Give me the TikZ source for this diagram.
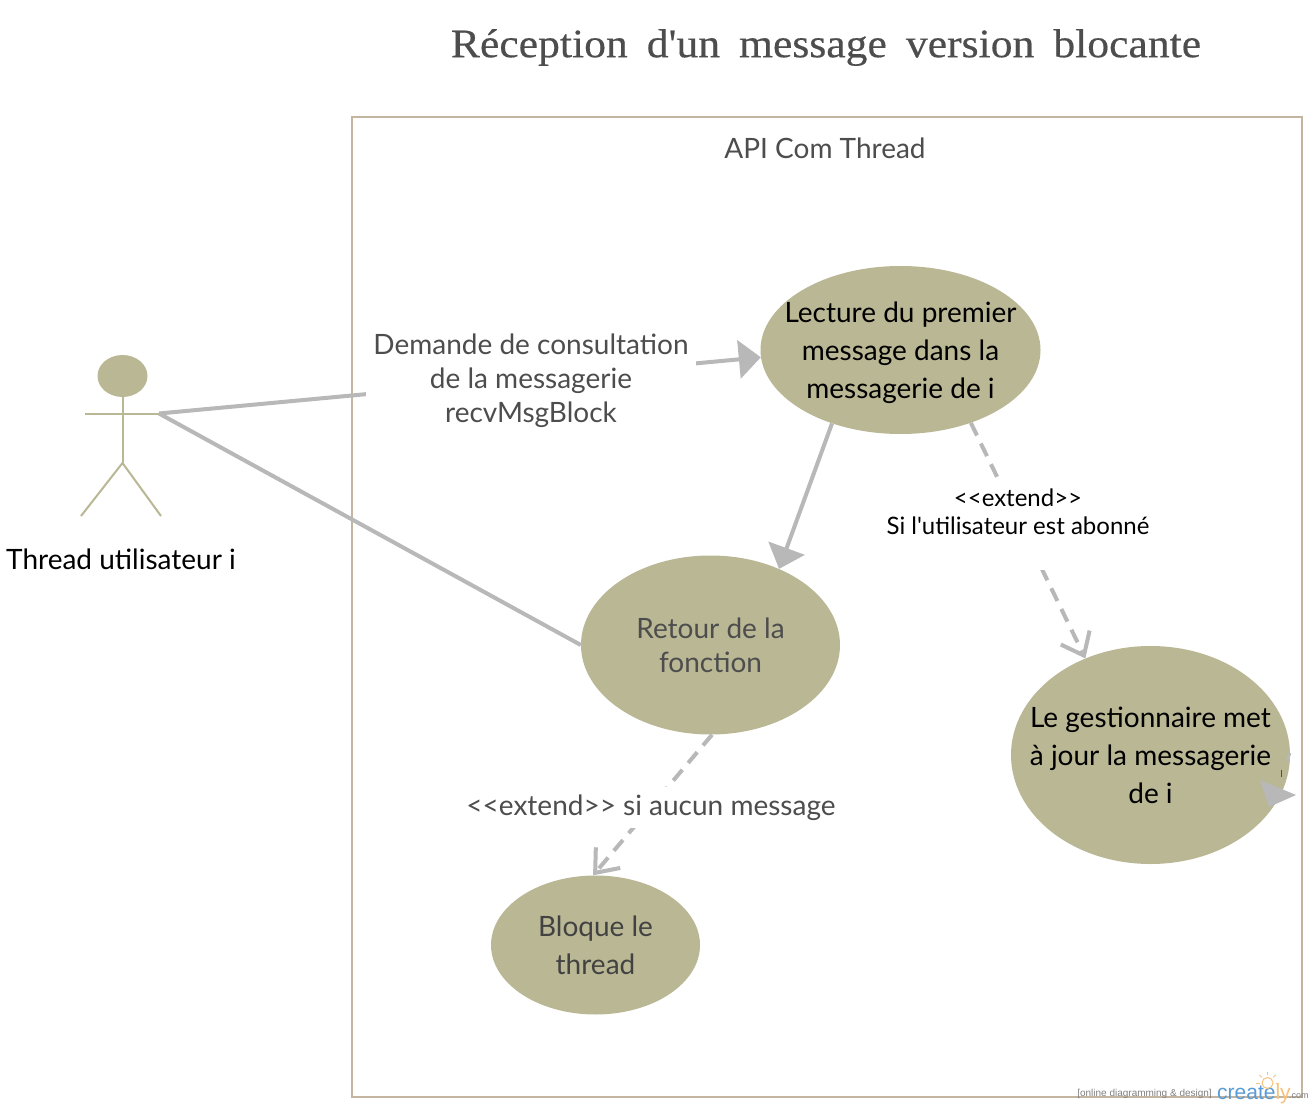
\documentclass[tikz,border=0pt]{standalone}
\usepackage{fontspec}
\setmainfont{Lato}[Ligatures=TeXOff]
\newfontfamily\titlefont{Liberation Serif}[FakeStretch=1.08,FakeBold=.4]
\newfontfamily\markfont{Liberation Sans}
\usepackage{xcolor}
\definecolor{Col1}{RGB}{186,183,148}
\definecolor{Col2}{RGB}{184,184,184}
\definecolor{Col3}{RGB}{196,181,160}
\definecolor{Col4}{RGB}{77,77,77}
\definecolor{Col5}{RGB}{91,155,213}
\definecolor{Col6}{RGB}{249,194,123}
\usetikzlibrary{shapes.geometric}
\usetikzlibrary{arrows.meta}
\tikzstyle{UseCase}=[ellipse,fill=Col1,inner sep=0pt]
\tikzstyle{Actor}=[draw=Col1,line width=2pt]
\tikzstyle{Edge}=[draw=Col2,line width=4pt,-{Triangle[length=22pt,width=38pt,fill=Col2]}]
\tikzstyle{EdgeLine}=[draw=Col2,line width=4pt]
\tikzstyle{EdgeExt}=[draw=Col2,line width=4pt,dash pattern=on 14pt off 9pt,
-{Straight Barb[length=20pt,width=32pt,line width=4pt]}]
\tikzstyle{Big}=[align=center,font=\fontsize{28}{38}\selectfont,inner sep=0pt,yshift=-.5pt]
\tikzstyle{Mid}=[align=center,font=\fontsize{28}{34}\selectfont,inner sep=7pt,text=Col4,yshift=-.5pt]
\tikzstyle{Ext}=[align=center,font=\fontsize{24}{28}\selectfont,inner sep=7pt]
\begin{document}
\begin{tikzpicture}[x=1pt,y=-1pt]
        \useasboundingbox(0,0)rectangle(1315,1110);
        \fill[white](0,0)rectangle(1315,1110);
        \node[font=\titlefont\fontsize{40.4}{40.4}\selectfont,text=Col4,inner sep=0pt](Title)at(826,47.5){\spaceskip=19pt\relax R\'eception d'un message version blocante};
        \node[draw=Col3,line width=2pt,minimum width=950pt,minimum height=980pt,inner sep=0pt](Box)at(827,607){};
        \node[Mid,inner sep=0pt](BoxTitle)at(825,148){API Com Thread};
        % actor
        \node[UseCase,minimum width=50pt,minimum height=42pt](Head)at(122.5,376){};
        \coordinate(ArmL)at(85,413.5);
        \coordinate(Hand)at(159,413.5);
        \coordinate(Hip)at(122.5,463);
        \coordinate(FootL)at(81,516);
        \coordinate(FootR)at(161,516);
        \draw[Actor](Head)--(Hip);
        \draw[Actor](ArmL)--(Hand);
        \draw[Actor](FootL)--(Hip)--(FootR);
        \node[Big,text=black](ActorName)at(121,559){Thread utilisateur i};
        % use cases
        \node[UseCase,minimum width=280pt,minimum height=168pt](Lecture)at(900.5,350){};
        \node[UseCase,minimum width=259pt,minimum height=179pt](Retour)at(710.5,645){};
        \node[UseCase,minimum width=279pt,minimum height=218pt](Gestion)at(1150.5,755){};
        \node[UseCase,minimum width=209pt,minimum height=139pt](Bloque)at(595.5,945){};
        \node[Big,yshift=-2pt](LectureText)at(Lecture){Lecture du premier\\message dans la\\messagerie de i};
        \node[Mid,inner sep=0pt](RetourText)at(Retour){Retour de la\\fonction};
        \node[Big](GestionText)at(Gestion){Le gestionnaire met\\\`a jour la messagerie\\de i};
        \node[Big,text=Col4!85!black](BloqueText)at(Bloque){Bloque le\\thread};
        % connectors
        \draw[Edge](Hand)--(Lecture.183);
        \draw[EdgeLine](Hand)--(Retour.west);
        \draw[Edge](Lecture.227)--(Retour.48);
        \draw[EdgeExt](Lecture.-46.6)--(Gestion.124);
        \draw[EdgeExt](Retour.-89)--(Bloque.92);
        % labels over the connectors
        \node[Mid,fill=white](Demande)at(531,380){Demande de consultation\\de la messagerie\\recvMsgBlock};
        \node[Ext,fill=white](ExtA)at(1018,526){<<extend>>\\Si l'utilisateur est abonn\'e\\\mbox{}};
        \node[Mid,fill=white,inner ysep=8pt](ExtB)at(651,807){<<extend>> si aucun message};
        % loop on Gestion
        \coordinate(LoopA)at(1290,753);
        \coordinate(LoopB)at(1287.5,761);
        \coordinate(LoopC)at(1281,770);
        \coordinate(LoopD)at(1281,777);
        \draw[Col2,line width=2.5pt](LoopA)--(LoopB);
        \draw[Col4,line width=1pt](LoopC)--(LoopD);
        \fill[Col2](1260,780)--(1296,795)--(1269,807)--cycle;
        % watermark
        \node[font=\markfont\fontsize{10}{10}\selectfont,text=gray,inner sep=0pt,anchor=east](MarkA)at(1212,1094){[online diagramming \& design]};
        \node[font=\markfont\fontsize{21}{21}\selectfont,inner sep=0pt,anchor=west](MarkB)at(1217,1094){\textcolor{Col5}{create}\textcolor{Col6}{ly}};
        \node[font=\markfont\fontsize{9}{9}\selectfont,text=gray,inner sep=0pt,anchor=west](MarkC)at(1289,1096){.com};
        \node[circle,draw=Col6,line width=1pt,minimum size=11pt,inner sep=0pt](Bulb)at(1267.5,1083){};
        \foreach \a in {0,45,90,135,180}{
            \draw[Col6,line width=.8pt]([shift={(\a:2pt)}]Bulb.\a)--++(\a:3.5pt);
        }
    \end{tikzpicture}
\end{document}
